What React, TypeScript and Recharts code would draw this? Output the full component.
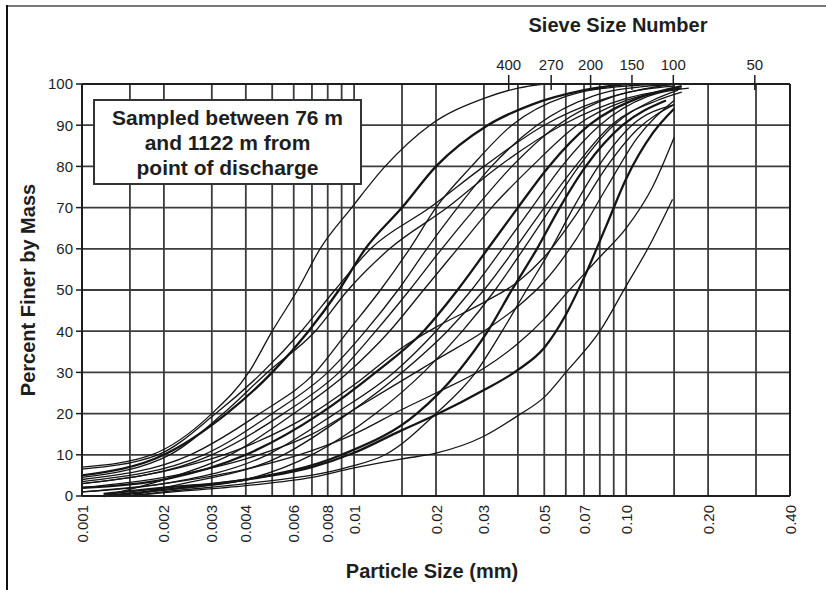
import React from 'react';
import { LineChart, Line, XAxis, YAxis, ReferenceLine } from 'recharts';

// bottom axis, particle size in mm (log scale)
const SIZE_TICKS = [0.001, 0.002, 0.003, 0.004, 0.006, 0.008, 0.01, 0.02, 0.03, 0.05, 0.07, 0.1, 0.2, 0.4];
const SIZE_LABELS = ['0.001', '0.002', '0.003', '0.004', '0.006', '0.008', '0.01', '0.02', '0.03', '0.05', '0.07', '0.10', '0.20', '0.40'];
const SIZE_GRID = [
  0.0015, 0.002, 0.003, 0.004, 0.005, 0.006, 0.007, 0.008, 0.009, 0.01,
  0.015, 0.02, 0.03, 0.04, 0.05, 0.06, 0.07, 0.08, 0.09, 0.1,
  0.15, 0.2, 0.3,
];

// top axis, sieve openings (mm) and their numbers
const SIEVE_SIZES = [0.037, 0.053, 0.074, 0.105, 0.149, 0.297];
const SIEVE_NUMBERS = ['400', '270', '200', '150', '100', '50'];

const PCT_TICKS = [0, 10, 20, 30, 40, 50, 60, 70, 80, 90, 100];
const PCT_GRID = [10, 20, 30, 40, 50, 60, 70, 80, 90];

// gradation curves: [size mm, percent finer]
const c01 = [[0.001, 7], [0.0018, 10], [0.003, 20], [0.0041, 30], [0.005, 40], [0.0062, 50], [0.0075, 60], [0.0098, 70], [0.013, 80], [0.019, 90], [0.03, 96.5], [0.04, 99], [0.05, 100]];
const c02 = [[0.001, 5], [0.002, 10], [0.0034, 20], [0.005, 30], [0.0068, 40], [0.0088, 50], [0.011, 60], [0.015, 70], [0.02, 80], [0.031, 90], [0.045, 95], [0.07, 98.5], [0.1, 100]];
const c03 = [[0.001, 6.5], [0.0019, 10], [0.0031, 20], [0.0046, 30], [0.0064, 40], [0.0085, 50], [0.0115, 60], [0.019, 70], [0.03, 80], [0.05, 90], [0.08, 96], [0.15, 100]];
const c04 = [[0.001, 4.5], [0.0021, 10], [0.0033, 20], [0.0048, 30], [0.0072, 40], [0.0095, 50], [0.0135, 60], [0.022, 70], [0.034, 80], [0.058, 90], [0.1, 96.5], [0.16, 99]];
const c05 = [[0.001, 4], [0.0025, 10], [0.0045, 20], [0.0072, 30], [0.0095, 40], [0.0125, 50], [0.016, 60], [0.02, 70], [0.027, 80], [0.038, 90], [0.06, 97], [0.1, 99.5], [0.15, 100]];
const c06 = [[0.001, 3.5], [0.0028, 10], [0.005, 20], [0.008, 30], [0.011, 40], [0.0145, 50], [0.0185, 60], [0.024, 70], [0.032, 80], [0.047, 90], [0.075, 97], [0.12, 99.5], [0.16, 100]];
const c07 = [[0.001, 3], [0.003, 10], [0.0055, 20], [0.0088, 30], [0.012, 40], [0.016, 50], [0.021, 60], [0.028, 70], [0.038, 80], [0.056, 90], [0.09, 97], [0.15, 99.5]];
const c08 = [[0.0012, 0], [0.002, 4], [0.0035, 10], [0.006, 20], [0.0095, 30], [0.0135, 40], [0.018, 50], [0.024, 60], [0.032, 70], [0.045, 80], [0.066, 90], [0.1, 96], [0.16, 99]];
const c09 = [[0.001, 2], [0.002, 4], [0.004, 10], [0.0075, 20], [0.012, 30], [0.018, 40], [0.024, 50], [0.031, 60], [0.04, 70], [0.052, 80], [0.073, 90], [0.11, 96.5], [0.16, 99.5]];
const c10 = [[0.001, 1], [0.002, 3], [0.0048, 10], [0.0085, 20], [0.014, 30], [0.02, 40], [0.027, 50], [0.035, 60], [0.045, 70], [0.058, 80], [0.08, 90], [0.12, 97], [0.17, 99]];
const c11 = [[0.0015, 0], [0.002, 2], [0.0055, 10], [0.0095, 20], [0.015, 30], [0.022, 40], [0.03, 50], [0.039, 60], [0.05, 70], [0.065, 80], [0.088, 90], [0.13, 96], [0.16, 98]];
const c12 = [[0.0013, 0], [0.002, 1.5], [0.004, 4], [0.007, 10], [0.012, 20], [0.018, 30], [0.025, 40], [0.033, 50], [0.042, 60], [0.053, 70], [0.067, 80], [0.09, 90], [0.125, 96], [0.155, 98.5]];
const c13 = [[0.0012, 0.5], [0.002, 2], [0.004, 4], [0.009, 10], [0.017, 20], [0.024, 30], [0.031, 40], [0.038, 50], [0.047, 60], [0.057, 70], [0.071, 80], [0.097, 90], [0.14, 96]];
const c14 = [[0.0015, 0], [0.002, 1], [0.004, 3], [0.0095, 7], [0.013, 10], [0.02, 20], [0.028, 30], [0.035, 40], [0.043, 50], [0.053, 60], [0.064, 70], [0.079, 80], [0.105, 90], [0.15, 95]];
const c15 = [[0.001, 3], [0.002, 6], [0.004, 12], [0.007, 20], [0.01, 27], [0.015, 36], [0.02, 41], [0.03, 47], [0.04, 52], [0.05, 58], [0.065, 68], [0.085, 80], [0.11, 89], [0.15, 95]];
const c16 = [[0.001, 2], [0.002, 4.5], [0.004, 9], [0.007, 15], [0.01, 21], [0.015, 28], [0.02, 33], [0.03, 40], [0.04, 46], [0.05, 52], [0.065, 62], [0.085, 75], [0.11, 87], [0.15, 96]];
const c17 = [[0.001, 1], [0.002, 3], [0.004, 6.5], [0.007, 11], [0.01, 15], [0.015, 21], [0.02, 25], [0.03, 31], [0.04, 37], [0.05, 43], [0.06, 49], [0.08, 58], [0.1, 65], [0.125, 75], [0.15, 87]];
const c18 = [[0.0012, 0], [0.002, 1.5], [0.004, 4], [0.007, 7], [0.01, 10.5], [0.015, 16], [0.02, 19.7], [0.03, 25.7], [0.04, 30.6], [0.05, 36], [0.06, 44], [0.07, 53], [0.085, 66], [0.1, 77], [0.125, 88], [0.15, 94]];
const c19 = [[0.0015, 0], [0.002, 0.8], [0.004, 2.5], [0.007, 4.5], [0.01, 6.8], [0.015, 9], [0.02, 10.4], [0.03, 14.5], [0.04, 19.5], [0.05, 24], [0.06, 30], [0.08, 40], [0.1, 51], [0.12, 60], [0.148, 72]];

const CURVES = [c01, c02, c03, c04, c05, c06, c07, c08, c09, c10, c11, c12, c13, c14, c15, c16, c17, c18, c19];
const THICK = [1, 8, 12, 17];

const FONT = '"Liberation Sans", Arial, Helvetica, sans-serif';
const INK = '#1e1e1e';
const GRID = '#3c3c3c';

const BottomTick = ({ x, y, payload }: any) => (
  <text
    x={x}
    y={y}
    transform={`rotate(-90 ${x} ${y})`}
    textAnchor="end"
    dominantBaseline="central"
    fontFamily={FONT}
    fontSize={15}
    fill={INK}
  >
    {SIZE_LABELS[SIZE_TICKS.indexOf(payload.value)]}
  </text>
);

const SieveTick = ({ x, y, payload }: any) => (
  <g>
    <line x1={x} x2={x} y1={y - 9} y2={y + 6} stroke={INK} strokeWidth={1.5} />
    <text x={x} y={y - 14} textAnchor="middle" fontFamily={FONT} fontSize={15} fill={INK}>
      {SIEVE_NUMBERS[SIEVE_SIZES.indexOf(payload.value)]}
    </text>
  </g>
);

export default function App() {
  return (
    <div style={{ position: 'absolute', left: 0, top: 0, width: 826, height: 590, background: '#fff', overflow: 'hidden' }}>
      <div style={{ position: 'absolute', left: 6, top: 5, right: 0, height: 2, background: '#777' }} />
      <div style={{ position: 'absolute', left: 6, top: 5, bottom: 0, width: 2, background: '#111' }} />

      <LineChart width={826} height={590} margin={{ top: 54, right: 6, bottom: 34, left: 42 }}>
        <XAxis
          xAxisId="bottom"
          type="number"
          dataKey="x"
          scale="log"
          domain={[0.001, 0.4]}
          allowDataOverflow
          ticks={SIZE_TICKS}
          interval={0}
          tick={<BottomTick />}
          tickLine={false}
          tickSize={0}
          tickMargin={9}
          height={60}
          axisLine={{ stroke: INK, strokeWidth: 2 }}
        />
        <XAxis
          xAxisId="top"
          orientation="top"
          type="number"
          dataKey="x"
          scale="log"
          domain={[0.001, 0.4]}
          allowDataOverflow
          ticks={SIEVE_SIZES}
          interval={0}
          tick={<SieveTick />}
          tickLine={false}
          tickSize={0}
          tickMargin={0}
          height={30}
          axisLine={{ stroke: INK, strokeWidth: 2 }}
        />
        <YAxis
          yAxisId="left"
          type="number"
          domain={[0, 100]}
          ticks={PCT_TICKS}
          interval={0}
          width={40}
          tickSize={6}
          tickMargin={3}
          tickLine={{ stroke: INK, strokeWidth: 1.5 }}
          axisLine={{ stroke: INK, strokeWidth: 2 }}
          tick={{ fill: INK, fontSize: 15, fontFamily: FONT }}
        />
        <YAxis
          yAxisId="right"
          orientation="right"
          type="number"
          domain={[0, 100]}
          ticks={PCT_TICKS}
          interval={0}
          width={30}
          tickSize={6}
          tickMargin={2}
          tickLine={{ stroke: INK, strokeWidth: 1.5 }}
          axisLine={{ stroke: INK, strokeWidth: 2 }}
          tick={{ fill: INK, fontSize: 15, fontFamily: FONT }}
        />

        {SIZE_GRID.map((v) => (
          <ReferenceLine key={`gx${v}`} x={v} xAxisId="bottom" yAxisId="left" stroke={GRID} strokeWidth={1.8} />
        ))}
        {PCT_GRID.map((v) => (
          <ReferenceLine key={`gy${v}`} y={v} xAxisId="bottom" yAxisId="left" stroke={GRID} strokeWidth={1.8} />
        ))}

        {CURVES.map((c, i) => (
          <Line
            key={`c${i}`}
            xAxisId="bottom"
            yAxisId="left"
            data={c.map(([x, y]) => ({ x, y }))}
            dataKey="y"
            type="monotone"
            stroke="#151515"
            strokeWidth={THICK.includes(i) ? 2.3 : 1.3}
            dot={false}
            activeDot={false}
            isAnimationActive={false}
          />
        ))}
      </LineChart>

      <div
        style={{
          position: 'absolute', left: 93, top: 99, width: 265, height: 82,
          border: '2px solid #333', background: '#fff',
          display: 'flex', flexDirection: 'column', justifyContent: 'center', alignItems: 'center',
          fontFamily: FONT, fontWeight: 700, fontSize: 21, lineHeight: '25px', color: INK,
        }}
      >
        <div>Sampled between 76 m</div>
        <div>and 1122 m from</div>
        <div>point of discharge</div>
      </div>

      <div style={{ position: 'absolute', left: 468, top: 14, width: 300, textAlign: 'center', fontFamily: FONT, fontWeight: 700, fontSize: 20, color: INK }}>
        Sieve Size Number
      </div>
      <div style={{ position: 'absolute', left: 282, top: 560, width: 300, textAlign: 'center', fontFamily: FONT, fontWeight: 700, fontSize: 20, color: INK }}>
        Particle Size (mm)
      </div>
      <div
        style={{
          position: 'absolute', left: 28 - 150, top: 290 - 12, width: 300, height: 24, lineHeight: '24px',
          textAlign: 'center', transform: 'rotate(-90deg)',
          fontFamily: FONT, fontWeight: 700, fontSize: 20, color: INK,
        }}
      >
        Percent Finer by Mass
      </div>
    </div>
  );
}
